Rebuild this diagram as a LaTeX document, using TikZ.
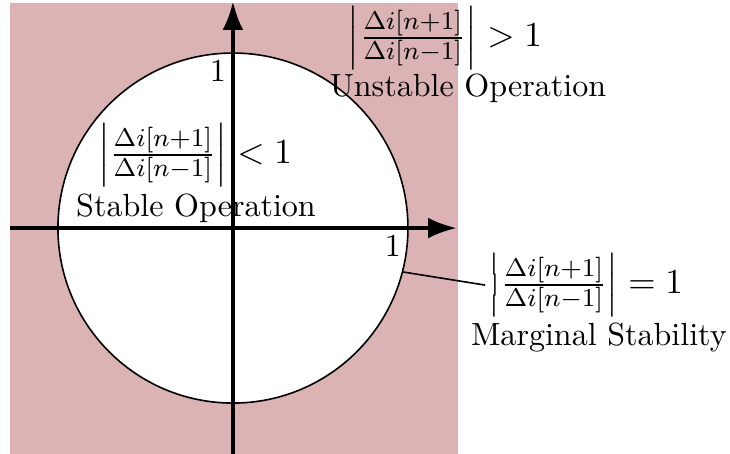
\documentclass[tikz,border=0pt]{standalone}
\usepackage{amsmath,amssymb}
\usetikzlibrary{arrows.meta,positioning,calc}
\definecolor{unstab}{RGB}{219,179,180}
\newcommand{\ratio}{\left|\frac{\Delta i[n+1]}{\Delta i[n-1]}\right|}
\tikzset{
  axis/.style={line width=1.3pt, -{Latex[length=9pt,width=6.5pt]}},
  eqlbl/.style={inner sep=1pt, font=\fontsize{11pt}{13pt}\selectfont},
  txtlbl/.style={inner sep=1pt}
}
\begin{document}
\begin{tikzpicture}[x=1.92cm, y=1.92cm]
    \useasboundingbox (-1.331,-1.286) rectangle (2.840,1.303);
    \coordinate (o) at (0,0);
    \fill[unstab] (-1.275,-1.29) rectangle (1.285,1.286);
    \draw[fill=white, line width=0.5pt] (o) circle (1);
    \draw[axis] (-1.274,0) -- (1.28,0);
    \draw[axis] (0,-1.29) -- (0,1.297);
    \node[anchor=north east, inner sep=2pt] (one-y) at (0,1) {1};
    \node[anchor=north east, inner sep=2pt] (one-x) at (1,0) {1};
    % stable region
    \node[eqlbl] (eqin) at (-0.217,0.417) {$\ratio < 1$};
    \node[txtlbl] (txtin) at (-0.211,0.114) {Stable Operation};
    % unstable region
    \node[eqlbl] (eqout) at (1.211,1.085) {$\ratio > 1$};
    \node[txtlbl] (txtout) at (1.343,0.80) {Unstable Operation};
    % marginal
    \coordinate (mpt) at (-14.5:1);
    \node[eqlbl] (eqmarg) at (2.017,-0.326) {$\ratio = 1$};
    \node[txtlbl] (txtmarg) at (2.091,-0.623) {Marginal Stability};
    \draw[line width=0.5pt] (mpt) -- (eqmarg.west);
  \end{tikzpicture}
\end{document}
